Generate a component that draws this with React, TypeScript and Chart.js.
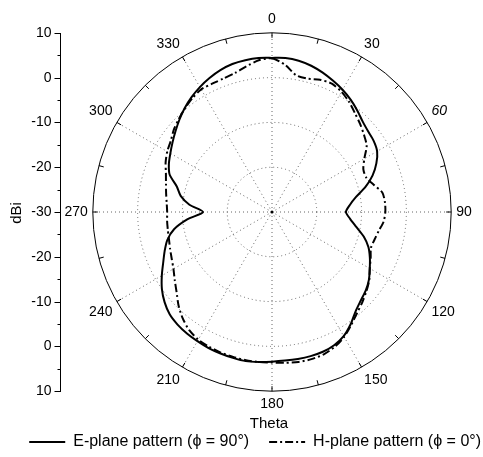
import React, { useEffect, useRef } from "react";
import { Chart, registerables } from "chart.js";

Chart.register(...registerables);

const FONT = "'Liberation Sans', Arial, Helvetica, sans-serif";

// Theta categories (degrees, clockwise from top)
const thetaDeg = [
  0, 5, 10, 15, 20, 25, 30, 35, 40, 45, 50, 55,
  60, 65, 70, 75, 80, 85, 90, 95, 100, 105, 110, 115,
  120, 125, 130, 135, 140, 145, 150, 155, 160, 165, 170, 175,
  180, 185, 190, 195, 200, 205, 210, 215, 220, 225, 230, 235,
  240, 245, 250, 255, 260, 265, 270, 275, 280, 285, 290, 295,
  300, 305, 310, 315, 320, 325, 330, 335, 340, 345, 350, 355,
];

// E-plane pattern (phi = 90°), dBi
const ePlane = [
  4.4, 4.5, 4.3, 3.8, 3.1, 2.3, 1.5, 0.6, -0.4, -1.4, -2.0, -2.3,
  -2.9, -4.3, -6.1, -8.4, -11.0, -12.6, -13.5, -12.5, -10.9, -8.8, -7.1, -5.9,
  -4.8, -3.6, -2.7, -2.0, -1.0, 0.6, 2.0, 2.8, 3.2, 3.3, 3.3, 3.3,
  3.4, 3.6, 3.8, 3.7, 3.6, 3.5, 3.3, 3.1, 2.8, 2.3, 1.3, 0.0,
  -1.6, -3.2, -4.5, -5.8, -7.8, -11.0, -14.6, -11.5, -9.3, -8.0, -5.7, -4.6,
  -3.8, -2.9, -1.9, -0.8, 0.3, 1.3, 2.2, 3.0, 3.7, 4.2, 4.4, 4.5,
];

// H-plane pattern (phi = 0°), dBi
const hPlane = [
  4.3, 3.0, 1.0, 0.8, 1.4, 1.6, 1.0, 0.0, -1.2, -2.2, -3.2, -4.2,
  -6.2, -7.5, -7.6, -6.5, -5.0, -4.7, -4.7, -5.0, -5.8, -6.3, -6.5, -5.7,
  -4.8, -3.5, -2.5, -1.5, -0.5, 0.8, 2.2, 3.2, 3.8, 4.0, 4.0, 3.8,
  3.6, 3.6, 3.6, 3.5, 3.4, 3.2, 2.9, 2.2, 1.0, -0.5, -2.2, -3.5,
  -4.6, -5.3, -5.8, -6.2, -6.4, -6.5, -6.6, -6.4, -6.0, -5.5, -4.8, -3.8,
  -3.0, -2.4, -1.4, -0.6, 0.2, 1.0, 1.6, 1.6, 1.7, 2.1, 3.0, 4.0,
];

// Left "dBi" axis tick values (mirrored about the centre)
const dbMajorTicks = [10, 0, -10, -20, -30];
const dbMinorTicks = [5, -5, -15, -25];

const AXIS_X = 60;

const leftAxisPlugin = {
  id: "leftAxis",
  afterDraw(chart: any) {
    const r = chart.scales.r;
    const ctx = chart.ctx as CanvasRenderingContext2D;
    const yc = r.yCenter;
    const full = r.getDistanceFromCenterForValue(r.max);
    const x = AXIS_X + 0.5;
    ctx.save();
    ctx.strokeStyle = "#000";
    ctx.fillStyle = "#000";
    ctx.lineWidth = 1;
    ctx.setLineDash([]);
    // outer-ring ticks every 15 degrees
    for (let i = 0; i < thetaDeg.length; i += 3) {
      const p1 = r.getPointPosition(i, full);
      const p2 = r.getPointPosition(i, full - 5);
      ctx.beginPath();
      ctx.moveTo(p1.x, p1.y);
      ctx.lineTo(p2.x, p2.y);
      ctx.stroke();
    }
    // centre dot
    ctx.beginPath();
    ctx.arc(r.xCenter, yc, 1.6, 0, Math.PI * 2);
    ctx.fill();
    // dBi axis
    ctx.beginPath();
    ctx.moveTo(x, Math.round(yc - full));
    ctx.lineTo(x, Math.round(yc + full) + 1);
    ctx.stroke();
    ctx.font = `14px ${FONT}`;
    ctx.textAlign = "right";
    ctx.textBaseline = "middle";
    for (const v of dbMajorTicks) {
      const d = r.getDistanceFromCenterForValue(v);
      const sides = d < 0.5 ? [0] : [-1, 1];
      for (const s of sides) {
        const y = Math.round(yc + s * d) + 0.5;
        ctx.beginPath();
        ctx.moveTo(x - 6, y);
        ctx.lineTo(x, y);
        ctx.stroke();
        ctx.fillText(String(v), x - 9, y);
      }
    }
    for (const v of dbMinorTicks) {
      const d = r.getDistanceFromCenterForValue(v);
      for (const s of [-1, 1]) {
        const y = Math.round(yc + s * d) + 0.5;
        ctx.beginPath();
        ctx.moveTo(x - 3, y);
        ctx.lineTo(x, y);
        ctx.stroke();
      }
    }
    ctx.restore();
  },
};

export default function App() {
  const ref = useRef<HTMLCanvasElement | null>(null);

  useEffect(() => {
    if (!ref.current) return;
    Chart.defaults.font.family = FONT;
    const baseLabels = (Chart.defaults.plugins.legend.labels as any).generateLabels;
    const chart = new Chart(ref.current, {
      type: "radar",
      data: {
        labels: thetaDeg.map(String),
        datasets: [
          {
            label: "E-plane pattern (\u03D5 = 90\u00B0)",
            data: ePlane,
            borderColor: "#000",
            backgroundColor: "#000",
            borderWidth: 2,
            pointRadius: 0,
            fill: false,
            tension: 0.25,
          },
          {
            label: "H-plane pattern (\u03D5 = 0\u00B0)",
            data: hPlane,
            borderColor: "#000",
            backgroundColor: "#000",
            borderWidth: 2,
            borderDash: [8, 3, 2, 3],
            pointRadius: 0,
            fill: false,
            tension: 0.25,
          },
        ],
      },
      options: {
        responsive: false,
        animation: false,
        layout: { padding: { top: 12, right: -18, bottom: -3, left: 0 } },
        scales: {
          r: {
            min: -30,
            max: 10,
            startAngle: 0,
            ticks: { display: false, stepSize: 10 },
            grid: {
              circular: true,
              color: (c: any) => (c.tick && c.tick.value === 10 ? "#000" : "#666"),
              lineWidth: 1,
            },
            border: {
              dash: (c: any) => (c.tick && c.tick.value === 10 ? [] : [1, 3]),
            },
            angleLines: {
              color: "#666",
              lineWidth: (c: any) => (c.index % 6 === 0 ? 1 : 0),
              borderDash: [1, 3],
            },
            pointLabels: {
              padding: 5,
              color: "#000",
              font: (c: any) => ({
                family: FONT,
                size: 14,
                style: c.index === 12 ? "italic" : "normal",
              }),
              callback: (label: string, i: number) => (i % 6 === 0 ? label : ""),
            },
          },
          y: {
            type: "linear",
            position: "left",
            grid: { display: false },
            ticks: { display: false },
            border: { display: false },
            title: {
              display: true,
              text: "dBi",
              color: "#000",
              font: { size: 15, family: FONT },
              padding: { top: 8, bottom: 0 },
            },
            afterFit: (s: any) => {
              s.width = 55;
            },
          },
        } as any,
        plugins: {
          legend: {
            position: "bottom",
            align: "end",
            weight: 3000,
            labels: {
              usePointStyle: true,
              pointStyle: "line",
              pointStyleWidth: 36,
              padding: 20,
              color: "#000",
              font: { size: 16, family: FONT },
              generateLabels: (ch: any) => {
                const items = baseLabels(ch);
                items.forEach((it: any, i: number) => {
                  const ds = ch.data.datasets[i];
                  it.lineDash = ds.borderDash || [];
                  it.lineWidth = ds.borderWidth;
                  it.strokeStyle = ds.borderColor;
                  it.pointStyle = "line";
                });
                return items;
              },
            },
          } as any,
          title: {
            display: true,
            text: "Theta",
            position: "bottom",
            fullSize: false,
            color: "#000",
            font: { size: 15, weight: "normal", family: FONT },
            padding: { top: 1, bottom: -19 },
          } as any,
          tooltip: { enabled: false },
        },
      },
      plugins: [leftAxisPlugin],
    });
    return () => chart.destroy();
  }, []);

  return (
    <div style={{ position: "absolute", left: 0, top: 0, width: 483, height: 457 }}>
      <canvas ref={ref} width={483} height={457} style={{ display: "block" }} />
    </div>
  );
}
